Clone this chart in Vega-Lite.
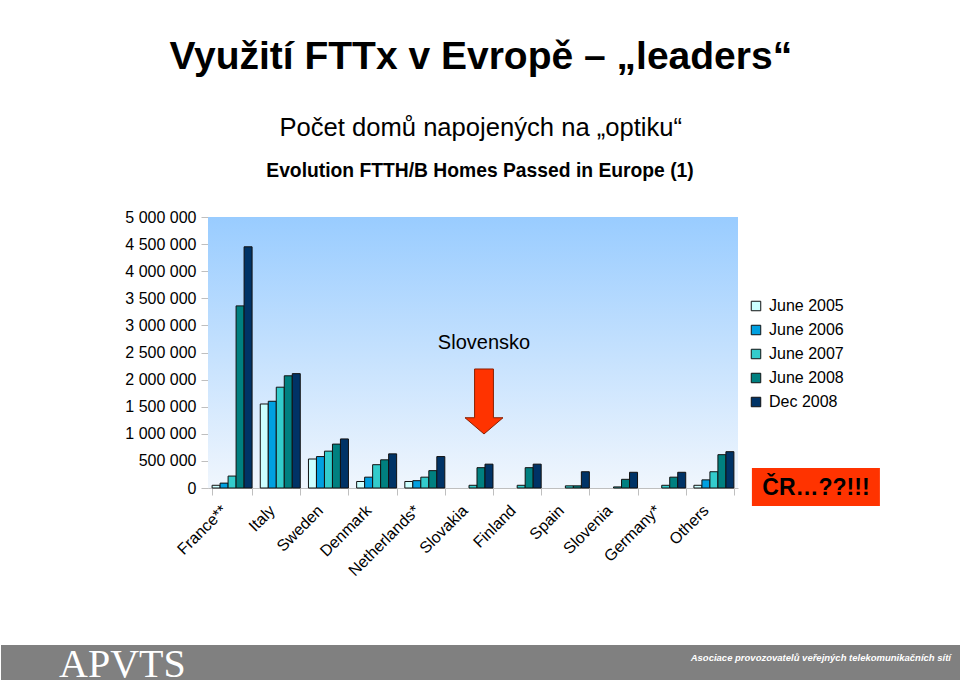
{
  "$schema": "https://vega.github.io/schema/vega-lite/v6.json",
  "background": "white",
  "padding": {"left": 0, "right": 0, "top": 38, "bottom": 0},
  "title": {
    "text": "Využití FTTx v Evropě – „leaders“",
    "subtitle": "Počet domů napojených na „optiku“",
    "anchor": "middle",
    "fontSize": 39,
    "fontWeight": "bold",
    "color": "black",
    "subtitleFontSize": 25.6,
    "subtitleColor": "black",
    "subtitlePadding": 39,
    "offset": 20
  },
  "spacing": 65,
  "vconcat": [
    {
      "spacing": 0,
      "hconcat": [
        {
          "width": 122,
          "height": 10,
          "view": {"stroke": "transparent", "fill": null},
          "data": {"values": [{}]},
          "mark": {"type": "text"},
          "encoding": {"text": {"value": ""}}
        },
        {
          "width": 530,
          "height": 271,
          "view": {"stroke": null},
          "title": {
            "text": "Evolution FTTH/B Homes Passed in Europe (1)",
            "fontSize": 19.3,
            "fontWeight": "bold",
            "color": "black",
            "anchor": "middle",
            "frame": "group",
            "dx": 7,
            "offset": 28
          },
          "layer": [
            {
              "data": {"values": [{}]},
              "mark": {
                "type": "rect",
                "color": {
                  "gradient": "linear",
                  "x1": 0, "y1": 0, "x2": 0, "y2": 1,
                  "stops": [
                    {"offset": 0, "color": "#99CCFF"},
                    {"offset": 1, "color": "#F0F6FD"}
                  ]
                }
              },
              "encoding": {
                "y": {
                  "datum": 5000000,
                  "type": "quantitative",
                  "title": null,
                  "scale": {"domain": [0, 5000000], "nice": false},
                  "axis": {
                    "values": [0, 500000, 1000000, 1500000, 2000000, 2500000, 3000000, 3500000, 4000000, 4500000, 5000000],
                    "tickCount": 20,
                    "labelExpr": "replace(replace(format(datum.value, ','), ',', ' '), ',', ' ')",
                    "labelOverlap": false,
                    "grid": false,
                    "labelFontSize": 16,
                    "labelColor": "black",
                    "tickSize": 7,
                    "tickColor": "#BFBFBF",
                    "domainColor": "#BFBFBF",
                    "labelPadding": 5
                  }
                },
                "y2": {"datum": 0}
              }
            },
            {
              "data": {
                "values": [
                  {"country": "France**", "series": "June 2005", "value": 50000},
                  {"country": "France**", "series": "June 2006", "value": 90000},
                  {"country": "France**", "series": "June 2007", "value": 220000},
                  {"country": "France**", "series": "June 2008", "value": 3360000},
                  {"country": "France**", "series": "Dec 2008", "value": 4450000},
                  {"country": "Italy", "series": "June 2005", "value": 1550000},
                  {"country": "Italy", "series": "June 2006", "value": 1600000},
                  {"country": "Italy", "series": "June 2007", "value": 1860000},
                  {"country": "Italy", "series": "June 2008", "value": 2070000},
                  {"country": "Italy", "series": "Dec 2008", "value": 2110000},
                  {"country": "Sweden", "series": "June 2005", "value": 535000},
                  {"country": "Sweden", "series": "June 2006", "value": 580000},
                  {"country": "Sweden", "series": "June 2007", "value": 680000},
                  {"country": "Sweden", "series": "June 2008", "value": 810000},
                  {"country": "Sweden", "series": "Dec 2008", "value": 905000},
                  {"country": "Denmark", "series": "June 2005", "value": 120000},
                  {"country": "Denmark", "series": "June 2006", "value": 200000},
                  {"country": "Denmark", "series": "June 2007", "value": 430000},
                  {"country": "Denmark", "series": "June 2008", "value": 520000},
                  {"country": "Denmark", "series": "Dec 2008", "value": 630000},
                  {"country": "Netherlands*", "series": "June 2005", "value": 120000},
                  {"country": "Netherlands*", "series": "June 2006", "value": 135000},
                  {"country": "Netherlands*", "series": "June 2007", "value": 200000},
                  {"country": "Netherlands*", "series": "June 2008", "value": 320000},
                  {"country": "Netherlands*", "series": "Dec 2008", "value": 580000},
                  {"country": "Slovakia", "series": "June 2007", "value": 50000},
                  {"country": "Slovakia", "series": "June 2008", "value": 375000},
                  {"country": "Slovakia", "series": "Dec 2008", "value": 440000},
                  {"country": "Finland", "series": "June 2007", "value": 50000},
                  {"country": "Finland", "series": "June 2008", "value": 375000},
                  {"country": "Finland", "series": "Dec 2008", "value": 440000},
                  {"country": "Spain", "series": "June 2007", "value": 40000},
                  {"country": "Spain", "series": "June 2008", "value": 40000},
                  {"country": "Spain", "series": "Dec 2008", "value": 300000},
                  {"country": "Slovenia", "series": "June 2007", "value": 20000},
                  {"country": "Slovenia", "series": "June 2008", "value": 160000},
                  {"country": "Slovenia", "series": "Dec 2008", "value": 290000},
                  {"country": "Germany*", "series": "June 2007", "value": 50000},
                  {"country": "Germany*", "series": "June 2008", "value": 200000},
                  {"country": "Germany*", "series": "Dec 2008", "value": 290000},
                  {"country": "Others", "series": "June 2005", "value": 50000},
                  {"country": "Others", "series": "June 2006", "value": 150000},
                  {"country": "Others", "series": "June 2007", "value": 300000},
                  {"country": "Others", "series": "June 2008", "value": 615000},
                  {"country": "Others", "series": "Dec 2008", "value": 670000}
                ]
              },
              "mark": {"type": "bar", "stroke": "#111111", "strokeWidth": 1},
              "encoding": {
                "x": {
                  "field": "country",
                  "type": "nominal",
                  "title": null,
                  "scale": {
                    "domain": ["France**", "Italy", "Sweden", "Denmark", "Netherlands*", "Slovakia", "Finland", "Spain", "Slovenia", "Germany*", "Others"],
                    "paddingInner": 0.17,
                    "paddingOuter": 0.085
                  },
                  "axis": {
                    "labelAngle": -45,
                    "labelFontSize": 16,
                    "labelColor": "black",
                    "tickBand": "extent",
                    "tickSize": 7,
                    "tickColor": "#BFBFBF",
                    "domainColor": "#BFBFBF",
                    "labelPadding": 7,
                    "labelOffset": -14
                  }
                },
                "xOffset": {
                  "field": "series",
                  "type": "nominal",
                  "scale": {
                    "domain": ["June 2005", "June 2006", "June 2007", "June 2008", "Dec 2008"],
                    "paddingInner": 0,
                    "paddingOuter": 0
                  }
                },
                "y": {
                  "field": "value",
                  "type": "quantitative",
                  "title": null,
                  "scale": {"domain": [0, 5000000], "nice": false},
                  "axis": {
                    "values": [0, 500000, 1000000, 1500000, 2000000, 2500000, 3000000, 3500000, 4000000, 4500000, 5000000],
                    "tickCount": 20,
                    "labelExpr": "replace(replace(format(datum.value, ','), ',', ' '), ',', ' ')",
                    "labelOverlap": false,
                    "grid": false,
                    "labelFontSize": 16,
                    "labelColor": "black",
                    "tickSize": 7,
                    "tickColor": "#BFBFBF",
                    "domainColor": "#BFBFBF",
                    "labelPadding": 5
                  }
                },
                "color": {
                  "field": "series",
                  "type": "nominal",
                  "scale": {
                    "domain": ["June 2005", "June 2006", "June 2007", "June 2008", "Dec 2008"],
                    "range": ["#CCFFFF", "#00A0E0", "#33CCCC", "#008080", "#003366"]
                  },
                  "legend": {
                    "orient": "none",
                    "legendX": 747,
                    "legendY": 81,
                    "title": null,
                    "symbolType": "square",
                    "symbolSize": 90,
                    "symbolStrokeColor": "#111111",
                    "symbolStrokeWidth": 1,
                    "labelFontSize": 16,
                    "labelColor": "black",
                    "labelOffset": 5,
                    "rowPadding": 8
                  }
                }
              }
            },
            {
              "data": {"values": [{"label": "Slovensko"}]},
              "mark": {"type": "text", "fontSize": 20, "color": "black", "baseline": "middle", "align": "center", "dx": 11},
              "encoding": {
                "x": {"datum": "Slovakia"},
                "y": {"datum": 2675000},
                "text": {"field": "label"}
              }
            },
            {
              "data": {"values": [{}]},
              "mark": {
                "type": "point",
                "shape": "M-0.29,-1 L0.29,-1 L0.29,0.5 L0.585,0.5 L0,1 L-0.585,0.5 L-0.29,0.5 Z",
                "size": 4225,
                "filled": true,
                "fill": "#FF3300",
                "stroke": "#8A2000",
                "strokeWidth": 1,
                "opacity": 1,
                "xOffset": 11
              },
              "encoding": {
                "x": {"datum": "Slovakia"},
                "y": {"datum": 1596000}
              }
            },
            {
              "data": {"values": [{}]},
              "mark": {
                "type": "point",
                "shape": "M-1,-0.297 L1,-0.297 L1,0.297 L-1,0.297 Z",
                "size": 16384,
                "filled": true,
                "fill": "#FF3300",
                "strokeWidth": 0,
                "opacity": 1,
                "xOffset": 102,
                "yOffset": -1
              },
              "encoding": {
                "x": {"datum": "Others"},
                "y": {"datum": 0}
              }
            },
            {
              "data": {"values": [{"label": "ČR…??!!!"}]},
              "mark": {"type": "text", "fontSize": 23, "fontWeight": "bold", "color": "black", "baseline": "middle", "align": "center", "dx": 102, "dy": 0},
              "encoding": {
                "x": {"datum": "Others"},
                "y": {"datum": 0},
                "text": {"field": "label"}
              }
            }
          ]
        }
      ]
    },
    {
      "width": 960,
      "height": 35,
      "view": {"fill": "#808080", "stroke": null},
      "data": {"values": [{}]},
      "layer": [
        {
          "mark": {"type": "text", "text": "APVTS", "font": "Liberation Serif", "fontSize": 40, "color": "white", "align": "left", "baseline": "middle", "dx": -422, "dy": 2},
          "encoding": {}
        },
        {
          "mark": {"type": "text", "text": "Asociace provozovatelů veřejných telekomunikačních sítí", "font": "Liberation Sans", "fontSize": 9.5, "fontWeight": "bold", "fontStyle": "italic", "color": "white", "align": "right", "baseline": "middle", "dx": 470, "dy": -5},
          "encoding": {}
        }
      ]
    }
  ],
  "config": {
    "font": "Liberation Sans",
    "view": {"stroke": null},
    "axis": {"labelOverlap": false}
  }
}
